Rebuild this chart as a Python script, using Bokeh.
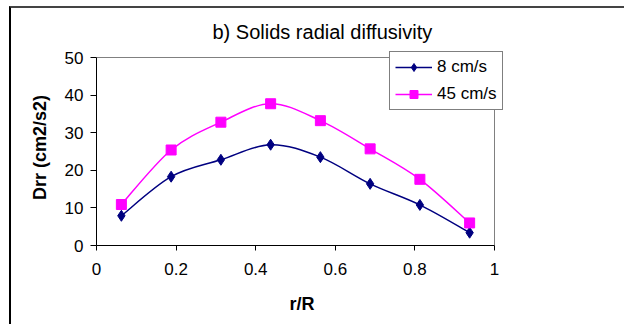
import numpy as np
from bokeh.plotting import figure
from bokeh.models import ColumnDataSource, Legend, LegendItem, Title, Range1d, FixedTicker
from bokeh.embed import file_html
from bokeh.resources import INLINE

title_text = "b) Solids radial diffusivity"
x_label = "r/R"
y_label = "Drr (cm2/s2)"
r_values = [0.0625, 0.1875, 0.3125, 0.4375, 0.5625, 0.6875, 0.8125, 0.9375]
series_8 = [7.9, 18.3, 22.8, 26.8, 23.5, 16.4, 10.8, 3.4]
series_45 = [10.9, 25.4, 32.8, 37.7, 33.2, 25.7, 17.6, 6.0]
labels = ["8 cm/s", "45 cm/s"]
x_ticks = [0, 0.2, 0.4, 0.6, 0.8, 1]
y_ticks = [0, 10, 20, 30, 40, 50]

FONT = "Liberation Sans"

# frame is extended a little to the right and top so the legend (which
# overhangs the plot area in the reference) is not clipped
W, H = 615, 318
x_end = 411 / 398
y_end = 196 / 3.76
p = figure(width=W, height=H, output_backend="svg", toolbar_location=None,
           x_range=Range1d(x_ticks[0], x_end), y_range=Range1d(y_ticks[0], y_end),
           min_border_left=85, min_border_right=119, min_border_top=41, min_border_bottom=81)
p.margin = (6, 0, 0, 9)
p.styles = {"border-top": "2px solid #444444", "border-left": "2px solid #000000"}
p.background_fill_color = "white"
p.border_fill_color = "white"
p.outline_line_color = None
p.xgrid.visible = False
p.ygrid.visible = False

# plot-area border (top and right), gray
xmax, ymax = x_ticks[-1], y_ticks[-1]
p.segment(x0=[x_ticks[0], xmax], y0=[ymax, y_ticks[0]], x1=[xmax, xmax], y1=[ymax, ymax],
          line_color="#808080", line_width=1)


def smooth_segments(xs, ys):
    xs = np.asarray(xs, float)
    ys = np.asarray(ys, float)
    n = len(xs)
    x0, y0, x1, y1, cx0, cy0, cx1, cy1 = ([] for _ in range(8))
    for i in range(n - 1):
        a = max(i - 1, 0)
        d = min(i + 2, n - 1)
        x0.append(xs[i]); y0.append(ys[i])
        x1.append(xs[i + 1]); y1.append(ys[i + 1])
        cx0.append(xs[i] + (xs[i + 1] - xs[a]) / 6)
        cy0.append(ys[i] + (ys[i + 1] - ys[a]) / 6)
        cx1.append(xs[i + 1] - (xs[d] - xs[i]) / 6)
        cy1.append(ys[i + 1] - (ys[d] - ys[i]) / 6)
    return ColumnDataSource(dict(x0=x0, y0=y0, x1=x1, y1=y1, cx0=cx0, cy0=cy0, cx1=cx1, cy1=cy1))


navy = "#000080"
magenta = "#FF00FF"

b1 = p.bezier(x0="x0", y0="y0", x1="x1", y1="y1", cx0="cx0", cy0="cy0", cx1="cx1", cy1="cy1",
              source=smooth_segments(r_values, series_8), line_color=navy, line_width=1.5)
s1 = p.scatter(r_values, series_8, marker="diamond", size=11,
               fill_color=navy, line_color=navy, line_width=1)
b2 = p.bezier(x0="x0", y0="y0", x1="x1", y1="y1", cx0="cx0", cy0="cy0", cx1="cx1", cy1="cy1",
              source=smooth_segments(r_values, series_45), line_color=magenta, line_width=1.5)
s2 = p.scatter(r_values, series_45, marker="square", size=10,
               fill_color=magenta, line_color=magenta)

for ax in (p.xaxis[0], p.yaxis[0]):
    ax.axis_line_color = "black"
    ax.axis_line_width = 1
    ax.major_tick_line_color = "black"
    ax.major_tick_out = 5
    ax.major_tick_in = 0
    ax.minor_tick_line_color = None
    ax.major_label_text_font = FONT
    ax.major_label_text_font_size = "17px"
    ax.major_label_text_color = "black"
    ax.axis_label_text_font = FONT
    ax.axis_label_text_font_size = "18px"
    ax.axis_label_text_font_style = "bold"
    ax.axis_label_text_color = "black"

p.yaxis.major_tick_out = 6
p.xaxis.bounds = (x_ticks[0], x_ticks[-1])
p.yaxis.bounds = (y_ticks[0], y_ticks[-1])
p.xaxis.ticker = FixedTicker(ticks=x_ticks)
p.yaxis.ticker = FixedTicker(ticks=y_ticks)
p.xaxis.major_label_overrides = {0: "0", 1: "1"}
p.xaxis.major_label_standoff = 12
p.yaxis.major_label_standoff = 7
p.xaxis.axis_label = x_label
p.yaxis.axis_label = y_label
p.xaxis.axis_label_standoff = 16
p.yaxis.axis_label_standoff = 12

p.title = Title(text=title_text, align="left", offset=116, text_font=FONT,
                text_font_size="20px", text_font_style="normal", text_color="black",
                standoff=13)

legend = Legend(items=[LegendItem(label=labels[0], renderers=[b1, s1]),
                       LegendItem(label=labels[1], renderers=[b2, s2])],
                location=(293, 135))
legend.label_text_font = FONT
legend.label_text_font_size = "17px"
legend.label_text_color = "black"
legend.border_line_color = "black"
legend.border_line_width = 1
legend.background_fill_color = "white"
legend.background_fill_alpha = 1
legend.glyph_width = 37
legend.glyph_height = 20
legend.label_height = 20
legend.label_standoff = 5
legend.padding = 5
legend.spacing = 7
legend.margin = 0
p.add_layout(legend, "center")

open("out.html", "w").write(file_html(p, INLINE))
